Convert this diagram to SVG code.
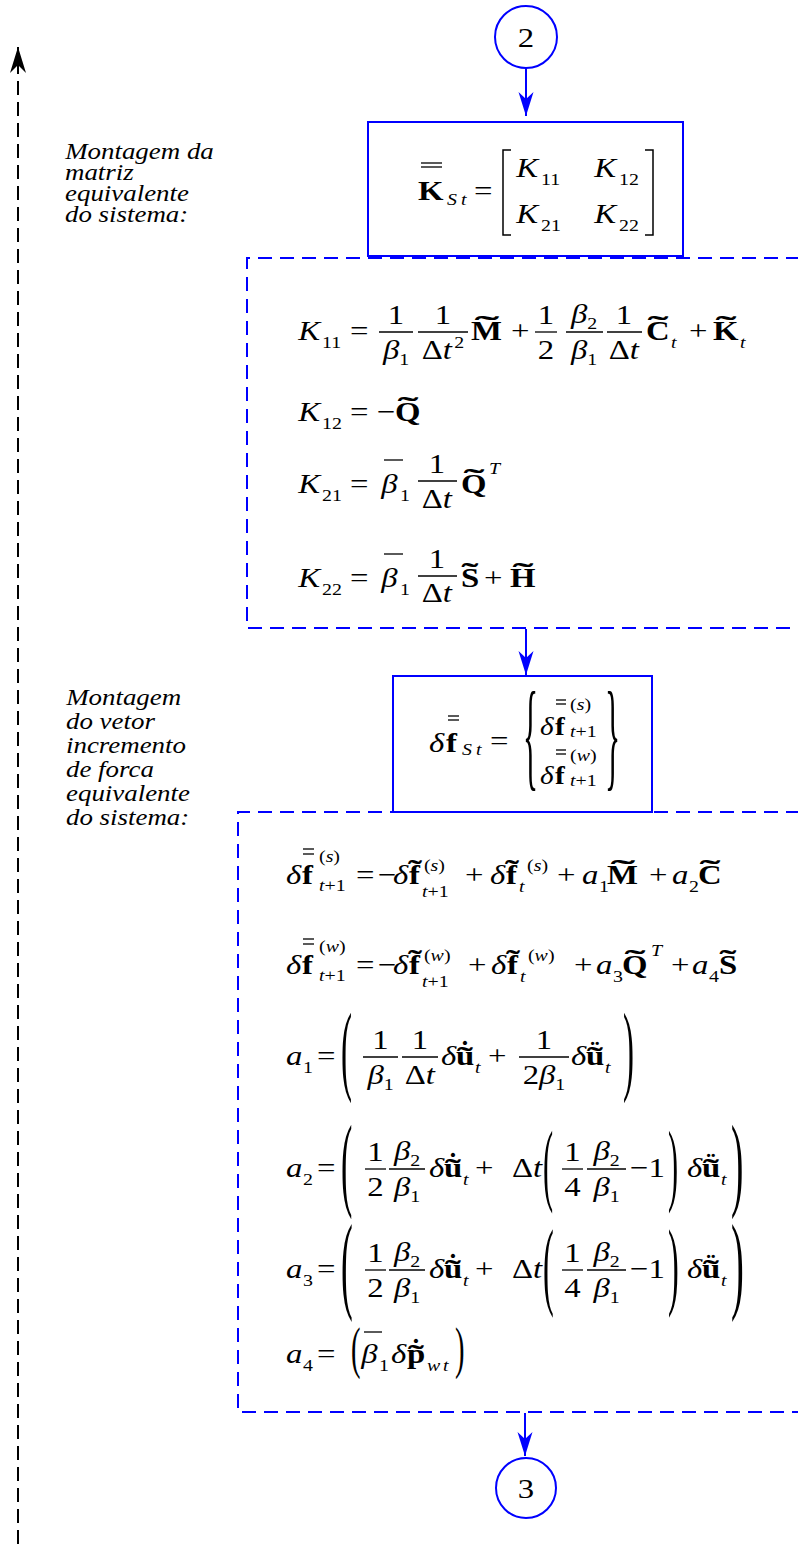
<svg xmlns="http://www.w3.org/2000/svg" width="798" height="1544" viewBox="0 0 798 1544">
<defs>
<style>
text{font-family:'Liberation Serif','Times New Roman',serif;fill:#000}
text:not([transform]){transform-box:fill-box;transform-origin:0 0;transform:scaleX(1.17)}
text[text-anchor="middle"]:not([transform]){transform-origin:50% 0}
.m{font-size:28px}
.e{font-size:25px}
.s{font-size:17px}
.i{font-style:italic}
.b{font-weight:bold}
.lab{font-size:23px;font-style:italic}
.fl{stroke:#000;stroke-width:1.3}
.br{fill:none;stroke:#000;stroke-width:1.5}
.box{fill:none;stroke:#00f;stroke-width:2}
.cir{fill:#fff;stroke:#00f;stroke-width:2}
.dbox{fill:none;stroke:#00f;stroke-width:2;stroke-dasharray:14 8}
.con{stroke:#00f;stroke-width:2;fill:none}
</style>
<marker id="ab" viewBox="-26 -10 28 20" refX="0" refY="0" markerWidth="28" markerHeight="20" markerUnits="userSpaceOnUse" orient="auto"><path d="M0,0 L-24,-7.5 L-17,0 L-24,7.5 Z" fill="#00f"/></marker>
<marker id="ak" viewBox="-28 -10 30 20" refX="0" refY="0" markerWidth="30" markerHeight="20" markerUnits="userSpaceOnUse" orient="auto"><path d="M0,0 L-26,-8 L-18,0 L-26,8 Z" fill="#000"/></marker>
</defs>
<rect width="798" height="1544" fill="#fff"/>

<g id="connectors">
<line class="con" x1="526" y1="68" x2="526" y2="116" marker-end="url(#ab)"/>
<line class="con" x1="526" y1="629" x2="526" y2="675" marker-end="url(#ab)"/>
<line class="con" x1="525" y1="1413" x2="525" y2="1456" marker-end="url(#ab)"/>
<line x1="18" y1="1544" x2="18" y2="47" stroke="#000" stroke-width="2" stroke-dasharray="14 7" marker-end="url(#ak)"/>
</g>

<g id="node-2">
<circle class="cir" cx="526" cy="37" r="31"/>
<text class="m" x="526" y="47" text-anchor="middle">2</text>
</g>

<g id="label-1">
<text class="lab" x="65" y="159">Montagem da</text>
<text class="lab" x="65" y="180">matriz</text>
<text class="lab" x="65" y="201">equivalente</text>
<text class="lab" x="65" y="222">do sistema:</text>
</g>

<g id="box-K">
<rect class="box" x="368" y="122" width="315" height="134"/>
<text class="m b" x="418" y="200">K</text>
<line class="fl" x1="421" y1="163" x2="442" y2="163"/>
<line class="fl" x1="421" y1="167" x2="442" y2="167"/>
<text class="s i" x="447" y="205">S</text><text class="s i" x="461" y="205">t</text>
<text class="m" x="474" y="200">=</text>
<path class="br" d="M511 150 H503 V235 H511"/>
<text class="m i" x="516" y="177">K</text><text class="s" x="541" y="185">11</text>
<text class="m i" x="594" y="177">K</text><text class="s" x="619" y="185">12</text>
<text class="m i" x="516" y="223">K</text><text class="s" x="541" y="231">21</text>
<text class="m i" x="594" y="223">K</text><text class="s" x="619" y="231">22</text>
<path class="br" d="M645 150 H653 V235 H645"/>
</g>

<g id="box-K-terms">
<path class="dbox" d="M800 258 H247 V628 H800"/>
<!-- K11 -->
<text class="m i" x="298" y="340">K</text>
<text class="s" x="322" y="348">11</text>
<text class="m" x="350" y="340">=</text>
<line class="fl" x1="379" y1="332" x2="413" y2="332"/>
<text class="m" x="396" y="324" text-anchor="middle">1</text>
<text class="m" x="396" y="359" text-anchor="middle"><tspan class="i">β</tspan><tspan class="s" dy="6">1</tspan></text>
<line class="fl" x1="418" y1="332" x2="468" y2="332"/>
<text class="m" x="443" y="324" text-anchor="middle">1</text>
<text class="m" x="443" y="359" text-anchor="middle">Δ<tspan class="i">t</tspan><tspan class="s" dx="2" dy="-11">2</tspan></text>
<text class="m b" x="471" y="340">M</text>
<text class="m b" text-anchor="middle" transform="translate(487,335) scale(2.6,1)">˜</text>
<text class="m" x="511" y="340">+</text>
<line class="fl" x1="535" y1="332" x2="557" y2="332"/>
<text class="m" x="546" y="324" text-anchor="middle">1</text>
<text class="m" x="546" y="359" text-anchor="middle">2</text>
<line class="fl" x1="566" y1="332" x2="603" y2="332"/>
<text class="m" x="584" y="323" text-anchor="middle"><tspan class="i">β</tspan><tspan class="s" dy="6">2</tspan></text>
<text class="m" x="584" y="359" text-anchor="middle"><tspan class="i">β</tspan><tspan class="s" dy="6">1</tspan></text>
<line class="fl" x1="607" y1="332" x2="642" y2="332"/>
<text class="m" x="624" y="324" text-anchor="middle">1</text>
<text class="m" x="624" y="359" text-anchor="middle">Δ<tspan class="i">t</tspan></text>
<text class="m b" x="646" y="340">C</text>
<text class="m b" text-anchor="middle" transform="translate(658,335) scale(2.2,1)">˜</text>
<text class="s i" x="671" y="348">t</text>
<text class="m" x="689" y="340">+</text>
<text class="m b" x="713" y="340">K</text>
<text class="m b" text-anchor="middle" transform="translate(726,335) scale(2.2,1)">˜</text>
<text class="s i" x="740" y="348">t</text>
<!-- K12 -->
<text class="m i" x="298" y="421">K</text>
<text class="s" x="322" y="429">12</text>
<text class="m" x="350" y="421">=</text>
<text class="m" x="377" y="421">−</text>
<text class="m b" x="395" y="421">Q</text>
<text class="m b" text-anchor="middle" transform="translate(408,416) scale(2.2,1)">˜</text>
<!-- K21 -->
<text class="m i" x="298" y="493">K</text>
<text class="s" x="322" y="501">21</text>
<text class="m" x="350" y="493">=</text>
<text class="m i" x="381" y="493">β</text>
<line class="fl" x1="384" y1="460" x2="403" y2="460"/>
<text class="s" x="400" y="501">1</text>
<line class="fl" x1="418" y1="481" x2="457" y2="481"/>
<text class="m" x="437" y="473" text-anchor="middle">1</text>
<text class="m" x="437" y="508" text-anchor="middle">Δ<tspan class="i">t</tspan></text>
<text class="m b" x="461" y="493">Q</text>
<text class="m b" text-anchor="middle" transform="translate(474,488) scale(2.2,1)">˜</text>
<text class="s i" x="489" y="474">T</text>
<!-- K22 -->
<text class="m i" x="298" y="587">K</text>
<text class="s" x="322" y="595">22</text>
<text class="m" x="350" y="587">=</text>
<text class="m i" x="381" y="587">β</text>
<line class="fl" x1="384" y1="554" x2="403" y2="554"/>
<text class="s" x="400" y="595">1</text>
<line class="fl" x1="418" y1="576" x2="457" y2="576"/>
<text class="m" x="437" y="568" text-anchor="middle">1</text>
<text class="m" x="437" y="602" text-anchor="middle">Δ<tspan class="i">t</tspan></text>
<text class="m b" x="461" y="587">S</text>
<text class="m b" text-anchor="middle" transform="translate(470,582) scale(1.8,1)">˜</text>
<text class="m" x="484" y="587">+</text>
<text class="m b" x="510" y="587">H</text>
<text class="m b" text-anchor="middle" transform="translate(523,582) scale(2.2,1)">˜</text>
</g>

<g id="label-2">
<text class="lab" x="66" y="705">Montagem</text>
<text class="lab" x="66" y="729">do vetor</text>
<text class="lab" x="66" y="753">incremento</text>
<text class="lab" x="66" y="777">de forca</text>
<text class="lab" x="66" y="801">equivalente</text>
<text class="lab" x="66" y="825">do sistema:</text>
</g>

<g id="box-f">
<rect class="box" x="393" y="676" width="259" height="136"/>
<text class="m i" x="429" y="752">δ</text>
<text class="m b" x="446" y="752">f</text>
<line class="fl" x1="448" y1="716" x2="459" y2="716"/>
<line class="fl" x1="448" y1="720" x2="459" y2="720"/>
<text class="s i" x="462" y="755">S</text><text class="s i" x="476" y="755">t</text>
<text class="m" x="490" y="750">=</text>
<text style="font-size:121px" transform="translate(523,775) scale(0.26,1)">{</text>
<text class="e i" x="540" y="735">δ</text>
<text class="e b" x="555" y="735">f</text>
<line class="fl" x1="556" y1="700" x2="566" y2="700"/>
<line class="fl" x1="556" y1="704" x2="566" y2="704"/>
<text class="s" x="570" y="710">(<tspan class="i">s</tspan>)</text>
<text class="s" x="570" y="737"><tspan class="i">t</tspan>+1</text>
<text class="e i" x="540" y="784">δ</text>
<text class="e b" x="555" y="784">f</text>
<line class="fl" x1="556" y1="750" x2="566" y2="750"/>
<line class="fl" x1="556" y1="754" x2="566" y2="754"/>
<text class="s" x="570" y="761">(<tspan class="i">w</tspan>)</text>
<text class="s" x="570" y="786"><tspan class="i">t</tspan>+1</text>
<text style="font-size:121px" transform="translate(605,775) scale(0.26,1)">}</text>
</g>

<g id="box-f-terms">
<path class="dbox" d="M800 812 H238 V1412 H800"/>
<!-- f(s) -->
<text class="m i" x="286" y="884">δ</text>
<text class="m b" x="302" y="884">f</text>
<line class="fl" x1="303" y1="849" x2="314" y2="849"/>
<line class="fl" x1="303" y1="854" x2="314" y2="854"/>
<text class="s" x="319" y="862">(<tspan class="i">s</tspan>)</text>
<text class="s" x="319" y="891"><tspan class="i">t</tspan>+1</text>
<text class="m" x="356" y="884">=</text>
<text class="m" x="378" y="884">−</text>
<text class="m i" x="393" y="884">δ</text>
<text class="m b" x="409" y="884">f</text>
<text class="m b" text-anchor="middle" transform="translate(415,879) scale(1.5,1)">˜</text>
<text class="s" x="424" y="871">(<tspan class="i">s</tspan>)</text>
<text class="s" x="422" y="897"><tspan class="i">t</tspan>+1</text>
<text class="m" x="465" y="884">+</text>
<text class="m i" x="490" y="884">δ</text>
<text class="m b" x="506" y="884">f</text>
<text class="m b" text-anchor="middle" transform="translate(512,879) scale(1.5,1)">˜</text>
<text class="s i" x="519" y="892">t</text>
<text class="s" x="527" y="871">(<tspan class="i">s</tspan>)</text>
<text class="m" x="557" y="884">+</text>
<text class="m i" x="582" y="884">a</text>
<text class="s" x="599" y="892">1</text>
<text class="m b" x="607" y="884">M</text>
<text class="m b" text-anchor="middle" transform="translate(623,879) scale(2.6,1)">˜</text>
<text class="m" x="649" y="884">+</text>
<text class="m i" x="672" y="884">a</text>
<text class="s" x="689" y="892">2</text>
<text class="m b" x="698" y="884">C</text>
<text class="m b" text-anchor="middle" transform="translate(710,879) scale(2.2,1)">˜</text>
<!-- f(w) -->
<text class="m i" x="286" y="974">δ</text>
<text class="m b" x="302" y="974">f</text>
<line class="fl" x1="303" y1="939" x2="314" y2="939"/>
<line class="fl" x1="303" y1="944" x2="314" y2="944"/>
<text class="s" x="319" y="952">(<tspan class="i">w</tspan>)</text>
<text class="s" x="319" y="981"><tspan class="i">t</tspan>+1</text>
<text class="m" x="356" y="974">=</text>
<text class="m" x="378" y="974">−</text>
<text class="m i" x="393" y="974">δ</text>
<text class="m b" x="409" y="974">f</text>
<text class="m b" text-anchor="middle" transform="translate(415,969) scale(1.5,1)">˜</text>
<text class="s" x="424" y="961">(<tspan class="i">w</tspan>)</text>
<text class="s" x="422" y="987"><tspan class="i">t</tspan>+1</text>
<text class="m" x="468" y="974">+</text>
<text class="m i" x="491" y="974">δ</text>
<text class="m b" x="507" y="974">f</text>
<text class="m b" text-anchor="middle" transform="translate(513,969) scale(1.5,1)">˜</text>
<text class="s i" x="520" y="982">t</text>
<text class="s" x="528" y="961">(<tspan class="i">w</tspan>)</text>
<text class="m" x="574" y="974">+</text>
<text class="m i" x="596" y="974">a</text>
<text class="s" x="613" y="982">3</text>
<text class="m b" x="622" y="974">Q</text>
<text class="m b" text-anchor="middle" transform="translate(635,969) scale(2.2,1)">˜</text>
<text class="s i" x="651" y="956">T</text>
<text class="m" x="671" y="974">+</text>
<text class="m i" x="692" y="974">a</text>
<text class="s" x="709" y="982">4</text>
<text class="m b" x="719" y="974">S</text>
<text class="m b" text-anchor="middle" transform="translate(728,969) scale(1.8,1)">˜</text>
<!-- a1 -->
<text class="m i" x="286" y="1065">a</text>
<text class="s" x="303" y="1073">1</text>
<text class="m" x="317" y="1065">=</text>
<text style="font-size:100px" transform="translate(341,1082) scale(0.33,1)">(</text>
<line class="fl" x1="363" y1="1057" x2="398" y2="1057"/>
<text class="m" x="380.5" y="1049" text-anchor="middle">1</text>
<text class="m" x="380.5" y="1084" text-anchor="middle"><tspan class="i">β</tspan><tspan class="s" dy="6">1</tspan></text>
<line class="fl" x1="402" y1="1057" x2="438" y2="1057"/>
<text class="m" x="420" y="1049" text-anchor="middle">1</text>
<text class="m" x="420" y="1084" text-anchor="middle">Δ<tspan class="i">t</tspan></text>
<text class="m i" x="441" y="1065">δ</text>
<text class="m b" x="456" y="1065">u</text>
<text class="m b" text-anchor="middle" transform="translate(465,1066) scale(1.7,1)">˜</text>
<text class="m b" text-anchor="middle" transform="translate(465,1060)">˙</text>
<text class="s i" x="475" y="1073">t</text>
<text class="m" x="488" y="1065">+</text>
<line class="fl" x1="519" y1="1057" x2="569" y2="1057"/>
<text class="m" x="544" y="1049" text-anchor="middle">1</text>
<text class="m" x="544" y="1084" text-anchor="middle">2<tspan class="i">β</tspan><tspan class="s" dy="6">1</tspan></text>
<text class="m i" x="571" y="1065">δ</text>
<text class="m b" x="586" y="1065">u</text>
<text class="m b" text-anchor="middle" transform="translate(595,1066) scale(1.7,1)">˜</text>
<text class="m b" text-anchor="middle" transform="translate(595,1060)">¨</text>
<text class="s i" x="605" y="1073">t</text>
<text style="font-size:100px" transform="translate(623,1082) scale(0.33,1)">)</text>
<!-- a2 -->
<text class="m i" x="286" y="1177">a</text>
<text class="s" x="303" y="1185">2</text>
<text class="m" x="317" y="1177">=</text>
<text style="font-size:103px" transform="translate(341,1197) scale(0.33,1)">(</text>
<line class="fl" x1="365" y1="1169" x2="386" y2="1169"/>
<text class="m" x="375.5" y="1161" text-anchor="middle">1</text>
<text class="m" x="375.5" y="1196" text-anchor="middle">2</text>
<line class="fl" x1="389" y1="1169" x2="425" y2="1169"/>
<text class="m" x="407" y="1160" text-anchor="middle"><tspan class="i">β</tspan><tspan class="s" dy="6">2</tspan></text>
<text class="m" x="407" y="1196" text-anchor="middle"><tspan class="i">β</tspan><tspan class="s" dy="6">1</tspan></text>
<text class="m i" x="429" y="1177">δ</text>
<text class="m b" x="444" y="1177">u</text>
<text class="m b" text-anchor="middle" transform="translate(453,1178) scale(1.7,1)">˜</text>
<text class="m b" text-anchor="middle" transform="translate(453,1172)">˙</text>
<text class="s i" x="463" y="1185">t</text>
<text class="m" x="475" y="1177">+</text>
<text class="m" x="512" y="1177">Δ<tspan class="i">t</tspan></text>
<text style="font-size:92px" transform="translate(543,1194) scale(0.33,1)">(</text>
<line class="fl" x1="562" y1="1169" x2="583" y2="1169"/>
<text class="m" x="572.5" y="1161" text-anchor="middle">1</text>
<text class="m" x="572.5" y="1196" text-anchor="middle">4</text>
<line class="fl" x1="587" y1="1169" x2="626" y2="1169"/>
<text class="m" x="606.5" y="1160" text-anchor="middle"><tspan class="i">β</tspan><tspan class="s" dy="6">2</tspan></text>
<text class="m" x="606.5" y="1196" text-anchor="middle"><tspan class="i">β</tspan><tspan class="s" dy="6">1</tspan></text>
<text class="m" x="630" y="1177">−1</text>
<text style="font-size:92px" transform="translate(668,1194) scale(0.33,1)">)</text>
<text class="m i" x="687" y="1177">δ</text>
<text class="m b" x="702" y="1177">u</text>
<text class="m b" text-anchor="middle" transform="translate(711,1178) scale(1.7,1)">˜</text>
<text class="m b" text-anchor="middle" transform="translate(711,1172)">¨</text>
<text class="s i" x="721" y="1185">t</text>
<text style="font-size:103px" transform="translate(731,1197) scale(0.36,1)">)</text>
<!-- a3 -->
<text class="m i" x="286" y="1278">a</text>
<text class="s" x="303" y="1286">3</text>
<text class="m" x="317" y="1278">=</text>
<text style="font-size:107px" transform="translate(341,1299) scale(0.33,1)">(</text>
<line class="fl" x1="365" y1="1270" x2="386" y2="1270"/>
<text class="m" x="375.5" y="1262" text-anchor="middle">1</text>
<text class="m" x="375.5" y="1297" text-anchor="middle">2</text>
<line class="fl" x1="389" y1="1270" x2="425" y2="1270"/>
<text class="m" x="407" y="1261" text-anchor="middle"><tspan class="i">β</tspan><tspan class="s" dy="6">2</tspan></text>
<text class="m" x="407" y="1297" text-anchor="middle"><tspan class="i">β</tspan><tspan class="s" dy="6">1</tspan></text>
<text class="m i" x="429" y="1278">δ</text>
<text class="m b" x="444" y="1278">u</text>
<text class="m b" text-anchor="middle" transform="translate(453,1279) scale(1.7,1)">˜</text>
<text class="m b" text-anchor="middle" transform="translate(453,1273)">˙</text>
<text class="s i" x="463" y="1286">t</text>
<text class="m" x="475" y="1278">+</text>
<text class="m" x="512" y="1278">Δ<tspan class="i">t</tspan></text>
<text style="font-size:98px" transform="translate(543,1297) scale(0.33,1)">(</text>
<line class="fl" x1="562" y1="1270" x2="583" y2="1270"/>
<text class="m" x="572.5" y="1262" text-anchor="middle">1</text>
<text class="m" x="572.5" y="1297" text-anchor="middle">4</text>
<line class="fl" x1="587" y1="1270" x2="626" y2="1270"/>
<text class="m" x="606.5" y="1261" text-anchor="middle"><tspan class="i">β</tspan><tspan class="s" dy="6">2</tspan></text>
<text class="m" x="606.5" y="1297" text-anchor="middle"><tspan class="i">β</tspan><tspan class="s" dy="6">1</tspan></text>
<text class="m" x="630" y="1278">−1</text>
<text style="font-size:98px" transform="translate(668,1297) scale(0.33,1)">)</text>
<text class="m i" x="687" y="1278">δ</text>
<text class="m b" x="702" y="1278">u</text>
<text class="m b" text-anchor="middle" transform="translate(711,1279) scale(1.7,1)">˜</text>
<text class="m b" text-anchor="middle" transform="translate(711,1273)">¨</text>
<text class="s i" x="721" y="1286">t</text>
<text style="font-size:107px" transform="translate(731,1299) scale(0.36,1)">)</text>
<!-- a4 -->
<text class="m i" x="286" y="1363">a</text>
<text class="s" x="303" y="1371">4</text>
<text class="m" x="317" y="1363">=</text>
<text style="font-size:57px" transform="translate(351,1367) scale(0.5,1)">(</text>
<text class="m i" x="361" y="1363">β</text>
<line class="fl" x1="364" y1="1332" x2="382" y2="1332"/>
<text class="s" x="379" y="1371">1</text>
<text class="m i" x="391" y="1363">δ</text>
<text class="m b" x="407" y="1363">p</text>
<text class="m b" text-anchor="middle" transform="translate(416,1364) scale(1.7,1)">˜</text>
<text class="m b" text-anchor="middle" transform="translate(416,1358)">˙</text>
<text class="s i" x="427" y="1371">w</text><text class="s i" x="443" y="1371">t</text>
<text style="font-size:57px" transform="translate(455,1367) scale(0.5,1)">)</text>
</g>

<g id="node-3">
<circle class="cir" cx="526" cy="1488" r="30"/>
<text class="m" x="526" y="1498" text-anchor="middle">3</text>
</g>
</svg>
